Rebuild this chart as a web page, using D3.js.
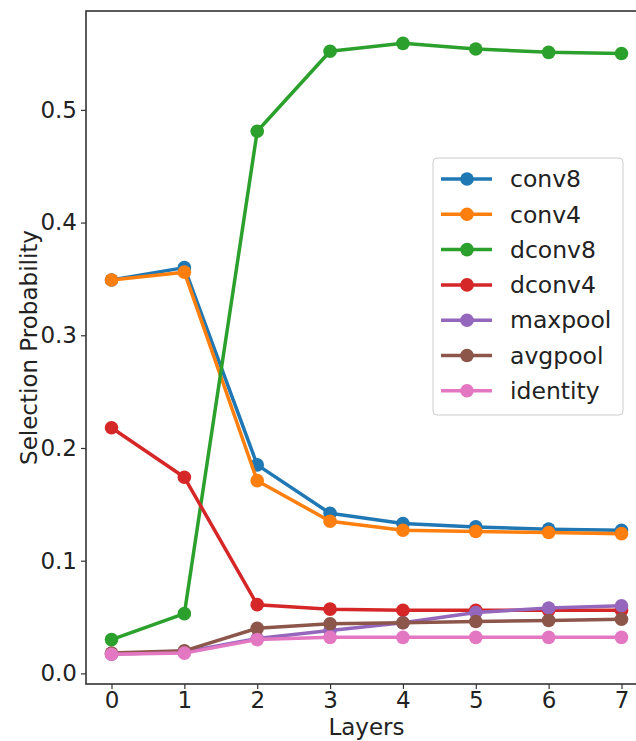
<!DOCTYPE html>
<html><head><meta charset="utf-8">
<script src="https://cdn.jsdelivr.net/npm/d3@7"></script>
<style>body{margin:0;background:#fff;overflow:hidden}svg{display:block}</style>
</head><body>
<script>
const layers = [0,1,2,3,4,5,6,7];
const seriesNames = ["conv8","conv4","dconv8","dconv4","maxpool","avgpool","identity"];
const colors = ["#1f77b4","#ff7f0e","#2ca02c","#d62728","#9467bd","#8c564b","#e377c2"];
const conv8    = [0.349,0.360,0.185,0.142,0.133,0.130,0.128,0.127];
const conv4    = [0.349,0.356,0.171,0.135,0.127,0.126,0.125,0.124];
const dconv8   = [0.030,0.053,0.481,0.552,0.559,0.554,0.551,0.550];
const dconv4   = [0.218,0.174,0.061,0.057,0.056,0.056,0.056,0.056];
const maxpool  = [0.017,0.019,0.031,0.038,0.045,0.054,0.058,0.060];
const avgpool  = [0.018,0.020,0.040,0.044,0.045,0.046,0.047,0.048];
const identity = [0.017,0.018,0.030,0.032,0.032,0.032,0.032,0.032];
const seriesValues = [conv8,conv4,dconv8,dconv4,maxpool,avgpool,identity];
const yTicks = [0.0,0.1,0.2,0.3,0.4,0.5];

const W = 636, H = 741;
const mLeft = 86, mRight = 647, mTop = 11, mBottom = 684;
const svg = d3.select("body").append("svg").attr("width",W).attr("height",H);
const font = "DejaVu Sans, sans-serif";

const x = d3.scaleLinear().domain([-0.35,7.35]).range([mLeft,mRight]);
const y = d3.scaleLinear().domain([-0.0094,0.5877]).range([mBottom,mTop]);

// Lines and markers
const line = d3.line().x((d,i)=>x(layers[i])).y(d=>y(d));
seriesValues.forEach((vals,k)=>{
  const g = svg.append("g");
  g.append("path").datum(vals).attr("d",line).attr("fill","none")
    .attr("stroke",colors[k]).attr("stroke-width",3.5).attr("stroke-linejoin","round");
  g.selectAll("circle").data(vals).enter().append("circle")
    .attr("cx",(d,i)=>x(layers[i])).attr("cy",d=>y(d)).attr("r",6.8).attr("fill",colors[k]);
});

// Axes
const xAxis = d3.axisBottom(x).tickValues(layers).tickFormat(d3.format("d")).tickSize(5).tickPadding(3);
const yAxis = d3.axisLeft(y).tickValues(yTicks).tickFormat(d3.format(".1f")).tickSize(5).tickPadding(4);
const gx = svg.append("g").attr("transform",`translate(0,${mBottom})`).call(xAxis);
const gy = svg.append("g").attr("transform",`translate(${mLeft},0)`).call(yAxis);
[gx,gy].forEach(g=>{
  g.select(".domain").remove();
  g.selectAll(".tick line").attr("stroke","#333").attr("stroke-width",1.2);
  g.selectAll(".tick text").attr("font-family",font).attr("font-size",23).attr("fill","#222");
});
// spines
svg.append("rect").attr("x",mLeft).attr("y",mTop).attr("width",mRight-mLeft).attr("height",mBottom-mTop)
  .attr("fill","none").attr("stroke","#333").attr("stroke-width",1.6);

// Axis labels
svg.append("text").attr("x",(mLeft+mRight)/2).attr("y",735).attr("text-anchor","middle")
  .attr("font-family",font).attr("font-size",23).attr("fill","#222").text("Layers");
svg.append("text").attr("transform",`translate(37,${(mTop+mBottom)/2}) rotate(-90)`)
  .attr("text-anchor","middle").attr("font-family",font).attr("font-size",23).attr("fill","#222")
  .text("Selection Probability");

// Legend
const lg = svg.append("g");
lg.append("rect").attr("x",433).attr("y",158).attr("width",190).attr("height",257).attr("rx",4)
  .attr("fill","#fff").attr("fill-opacity",0.8).attr("stroke","#ccc").attr("stroke-width",1);
seriesNames.forEach((name,k)=>{
  const yy = 179 + k*35.3;
  lg.append("line").attr("x1",441).attr("x2",492).attr("y1",yy).attr("y2",yy)
    .attr("stroke",colors[k]).attr("stroke-width",3.5);
  lg.append("circle").attr("cx",467).attr("cy",yy).attr("r",6.8).attr("fill",colors[k]);
  lg.append("text").attr("x",510).attr("y",yy).attr("dy","0.35em").attr("font-family",font)
    .attr("font-size",23.5).attr("fill","#222").text(name);
});
</script>
</body></html>
